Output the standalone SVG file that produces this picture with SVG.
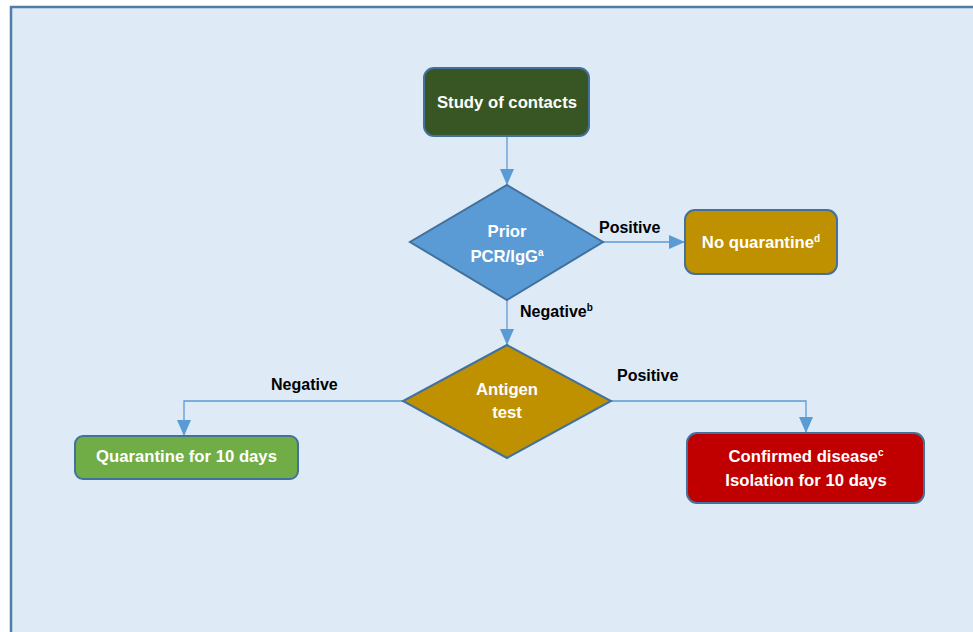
<svg xmlns="http://www.w3.org/2000/svg" width="973" height="632" viewBox="0 0 973 632">
<defs>
<style>
.node{stroke:#41719C;stroke-width:2}
.nt{font-family:"Liberation Sans",Arial,sans-serif;font-weight:bold;font-size:16.7px;fill:#fff;text-anchor:middle}
.lbl{font-family:"Liberation Sans",Arial,sans-serif;font-weight:bold;font-size:16px;fill:#000}
.sup{font-size:10px}
.conn{fill:none;stroke:#5B9BD5;stroke-width:1.3}
</style>
<marker id="arr" viewBox="0 0 16 14" refX="16" refY="7" markerWidth="16" markerHeight="14" markerUnits="userSpaceOnUse" orient="auto">
<path d="M0,0 L16,7 L0,14 Z" fill="#5B9BD5"/>
</marker>
</defs>
<rect x="0" y="0" width="973" height="632" fill="#fff"/>
<rect x="11" y="7" width="980" height="640" fill="#DEEAF6" stroke="#4F7CA8" stroke-width="2.5"/>
<g id="connectors">
<path class="conn" d="M507,136 V185" marker-end="url(#arr)"/>
<path class="conn" d="M603,242 H685" marker-end="url(#arr)"/>
<path class="conn" d="M507,300 V345" marker-end="url(#arr)"/>
<path class="conn" d="M403,401 H184 V436" marker-end="url(#arr)"/>
<path class="conn" d="M611,401 H806 V433" marker-end="url(#arr)"/>
</g>
<g id="study">
<rect class="node" x="424" y="68" width="165" height="68" rx="10" fill="#375623"/>
<text class="nt" x="507" y="108">Study of contacts</text>
</g>
<g id="prior">
<polygon class="node" points="507,185 603,242 507,300 410,242" fill="#5B9BD5"/>
<text class="nt" x="507" y="237">Prior</text>
<text class="nt" x="507" y="262">PCR/IgG<tspan class="sup" dy="-6">a</tspan></text>
</g>
<g id="noq">
<rect class="node" x="685" y="210" width="152" height="64" rx="10" fill="#BF9000"/>
<text class="nt" x="761" y="248">No quarantine<tspan class="sup" dy="-6">d</tspan></text>
</g>
<g id="antigen">
<polygon class="node" points="507,345 611,401 507,458 403,401" fill="#BF9000"/>
<text class="nt" x="507" y="395">Antigen</text>
<text class="nt" x="507" y="418">test</text>
</g>
<g id="quar">
<rect class="node" x="75" y="436" width="223" height="43" rx="8" fill="#70AD47"/>
<text class="nt" x="186.5" y="462">Quarantine for 10 days</text>
</g>
<g id="confirmed">
<rect class="node" x="687" y="433" width="237" height="70" rx="10" fill="#C00000"/>
<text class="nt" x="806" y="462">Confirmed disease<tspan class="sup" dy="-6">c</tspan></text>
<text class="nt" x="806" y="486">Isolation for 10 days</text>
</g>
<g id="labels">
<text class="lbl" x="599" y="233">Positive</text>
<text class="lbl" x="520" y="317">Negative<tspan class="sup" dy="-6">b</tspan></text>
<text class="lbl" x="271" y="390">Negative</text>
<text class="lbl" x="617" y="381">Positive</text>
</g>
</svg>
